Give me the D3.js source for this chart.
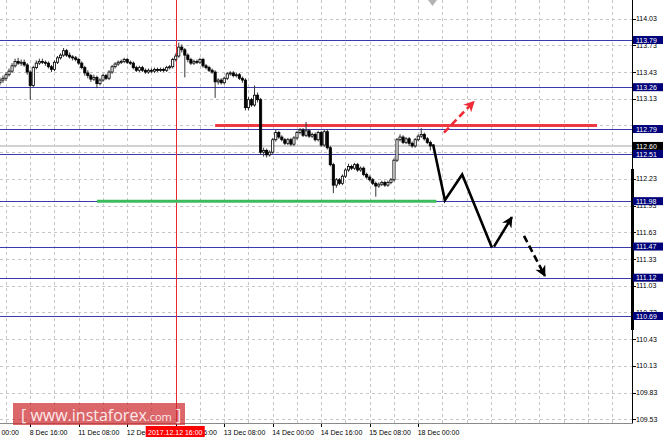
<!DOCTYPE html>
<html><head><meta charset="utf-8">
<script src="https://cdn.jsdelivr.net/npm/d3@7"></script>
<style>html,body{margin:0;padding:0;background:#fff;}svg{display:block;}</style>
</head><body>
<script>
// ---- data ----
const firstIndex = 6; // hourly bar index (0 = 8 Dec 00:00, weekend skipped)
const open = [113.31,113.34,113.36,113.40,113.44,113.50,113.55,113.53,113.54,113.51,
113.43,113.28,113.48,113.53,113.55,113.54,113.53,113.49,113.46,113.54,
113.59,113.62,113.67,113.62,113.60,113.59,113.57,113.53,113.48,113.42,
113.39,113.35,113.37,113.30,113.34,113.39,113.36,113.43,113.49,113.52,
113.54,113.55,113.57,113.54,113.53,113.48,113.45,113.48,113.45,113.43,
113.45,113.44,113.46,113.45,113.46,113.45,113.48,113.49,113.57,113.61,
113.71,113.68,113.62,113.57,113.53,113.55,113.54,113.57,113.50,113.48,
113.45,113.43,113.32,113.34,113.31,113.36,113.41,113.42,113.39,113.40,
113.36,113.34,113.03,113.12,113.06,113.17,113.12,112.53,112.55,112.50,
112.53,112.67,112.75,112.70,112.67,112.63,112.67,112.62,112.69,112.75,
112.78,112.72,112.77,112.71,112.73,112.67,112.75,112.61,112.76,112.58,
112.39,112.16,112.22,112.18,112.26,112.33,112.37,112.35,112.39,112.33,
112.35,112.28,112.25,112.22,112.18,112.15,112.17,112.19,112.16,112.19,
112.22,112.44,112.67,112.70,112.64,112.68,112.63,112.60,112.67,112.71,
112.73,112.68,112.64];
const high = [113.37,113.39,113.43,113.47,113.53,113.58,113.59,113.57,113.57,113.53,
113.45,113.50,113.56,113.58,113.58,113.56,113.55,113.51,113.56,113.61,
113.64,113.70,113.69,113.65,113.62,113.61,113.59,113.55,113.50,113.45,
113.41,113.40,113.39,113.36,113.41,113.41,113.45,113.51,113.54,113.56,
113.57,113.59,113.59,113.56,113.55,113.50,113.50,113.50,113.47,113.47,
113.47,113.48,113.48,113.48,113.48,113.50,113.51,113.59,113.64,113.76,
113.74,113.70,113.64,113.59,113.57,113.57,113.59,113.59,113.52,113.50,
113.47,113.45,113.36,113.36,113.38,113.43,113.44,113.44,113.42,113.42,
113.38,113.36,113.15,113.14,113.28,113.20,113.14,112.58,112.57,112.55,
112.69,112.78,112.77,112.72,112.69,112.69,112.69,112.71,112.77,112.80,
112.80,112.87,112.79,112.75,112.75,112.77,112.77,112.78,112.78,112.60,
112.41,112.24,112.24,112.28,112.35,112.40,112.39,112.41,112.41,112.37,
112.37,112.30,112.27,112.24,112.20,112.19,112.21,112.21,112.21,112.24,
112.46,112.69,112.73,112.72,112.70,112.70,112.65,112.69,112.73,112.80,
112.75,112.70,112.66];
const low = [113.28,113.31,113.33,113.38,113.42,113.48,113.51,113.50,113.49,113.40,
113.12,113.26,113.46,113.51,113.52,113.50,113.47,113.43,113.44,113.52,
113.57,113.60,113.60,113.58,113.56,113.55,113.51,113.46,113.39,113.36,
113.32,113.33,113.25,113.28,113.32,113.34,113.34,113.41,113.47,113.50,
113.52,113.53,113.52,113.51,113.46,113.43,113.43,113.43,113.41,113.41,
113.42,113.42,113.43,113.43,113.43,113.43,113.46,113.47,113.55,113.59,
113.65,113.37,113.54,113.51,113.51,113.52,113.52,113.48,113.46,113.43,
113.41,113.14,113.29,113.29,113.29,113.34,113.39,113.37,113.37,113.34,
113.31,113.00,113.00,113.04,113.04,113.09,112.50,112.48,112.47,112.48,
112.51,112.65,112.68,112.65,112.61,112.61,112.60,112.60,112.67,112.73,
112.70,112.70,112.69,112.69,112.65,112.65,112.59,112.59,112.56,112.37,
112.07,112.13,112.16,112.16,112.24,112.31,112.33,112.33,112.31,112.31,
112.26,112.23,112.20,112.16,112.03,112.13,112.15,112.14,112.14,112.17,
112.20,112.42,112.65,112.62,112.62,112.60,112.58,112.58,112.65,112.69,
112.66,112.62,112.55];
const close = [113.34,113.36,113.40,113.44,113.50,113.55,113.53,113.54,113.51,113.43,
113.28,113.48,113.53,113.55,113.54,113.53,113.49,113.46,113.54,113.59,
113.62,113.67,113.62,113.60,113.59,113.57,113.53,113.48,113.42,113.39,
113.35,113.37,113.30,113.34,113.39,113.36,113.43,113.49,113.52,113.54,
113.55,113.57,113.54,113.53,113.48,113.45,113.48,113.45,113.43,113.45,
113.44,113.46,113.45,113.46,113.45,113.48,113.49,113.57,113.61,113.71,
113.68,113.62,113.57,113.53,113.55,113.54,113.57,113.50,113.48,113.45,
113.43,113.32,113.34,113.31,113.36,113.41,113.42,113.39,113.40,113.36,
113.34,113.03,113.12,113.06,113.17,113.12,112.53,112.55,112.50,112.53,
112.67,112.75,112.70,112.67,112.63,112.67,112.62,112.69,112.75,112.78,
112.72,112.77,112.71,112.73,112.67,112.75,112.61,112.76,112.58,112.39,
112.16,112.22,112.18,112.26,112.33,112.37,112.35,112.39,112.33,112.35,
112.28,112.25,112.22,112.18,112.15,112.17,112.19,112.16,112.19,112.22,
112.44,112.67,112.70,112.64,112.68,112.63,112.60,112.67,112.71,112.73,
112.68,112.64,112.60];

const timeLabels = ["8 Dec 00:00","8 Dec 16:00","11 Dec 08:00","12 Dec 00:00","12 Dec 16:00",
                    "13 Dec 08:00","14 Dec 00:00","14 Dec 16:00","15 Dec 08:00","18 Dec 00:00"];
const timeLabelIndex = [0,16,32,48,64,80,96,112,128,144];
const priceTicks = [109.53,109.83,110.13,110.43,110.73,111.03,111.33,111.63,111.93,112.23,112.53,112.83,113.13,113.43,113.73,114.03];
const hiddenTickLabels = [112.53, 112.83]; // fully covered by level labels in the original
const levels = [113.79,113.26,112.79,112.51,111.98,111.47,111.12,110.69];
const currentPrice = 112.60;
const resistanceLine = {from:77, to:203, price:112.83};
const supportLine = {from:38, to:150, price:111.98};
const markerIndex = 64, markerLabel = "2017.12.12 16:00";
const forecastPath = [[148.9,112.62],[152.8,111.99],[158.5,112.28],[168.3,111.46]];
const upArrow = [[169.0,111.47],[174.9,111.80]];
const downArrow = [[178.9,111.59],[185.8,111.14]];
const breakoutArrow = [[152.5,112.75],[162.4,113.10]];

// ---- layout ----
const W = 664, H = 442, plotR = 632, plotB = 423;
const x = d3.scaleLinear().domain([0, 208]).range([-18.25, 612.2]);
const y = d3.scaleLinear().domain([110.69, 113.79]).range([316, 40]);
const FONT = "'Liberation Sans', Arial, sans-serif";

const svg = d3.select("body").append("svg").attr("width", W).attr("height", H)
  .style("font-family", FONT);
svg.append("rect").attr("width", W).attr("height", H).attr("fill", "#fff");
const defs = svg.append("defs");
defs.append("clipPath").attr("id","plot").append("rect").attr("x",0).attr("y",0).attr("width",plotR).attr("height",plotB);
function mk(id, color){
  defs.append("marker").attr("id", id).attr("viewBox","0 0 10 10").attr("refX",9).attr("refY",5)
    .attr("markerWidth",13).attr("markerHeight",11).attr("markerUnits","userSpaceOnUse").attr("orient","auto")
    .append("path").attr("d","M0,0 L10,5 L0,10 L3,5 Z").attr("fill", color);
}
mk("ahBlack", "#000"); mk("ahRed", "#ee2b36");

const plot = svg.append("g").attr("clip-path","url(#plot)");

// grid
const gridX = d3.range(8, 209, 8);
plot.selectAll(".gx").data(gridX).join("line")
  .attr("x1", d => Math.round(x(d)) + 0.5).attr("x2", d => Math.round(x(d)) + 0.5)
  .attr("y1", 0).attr("y2", plotB)
  .attr("stroke", "#c6c6c6").attr("stroke-dasharray", "3,3");
plot.selectAll(".gy").data(priceTicks).join("line")
  .attr("x1", 0).attr("x2", plotR)
  .attr("y1", d => Math.round(y(d)) + 0.5).attr("y2", d => Math.round(y(d)) + 0.5)
  .attr("stroke", "#c6c6c6").attr("stroke-dasharray", "3,3");

// bid line
plot.append("line").attr("x1",0).attr("x2",plotR)
  .attr("y1", y(currentPrice)).attr("y2", y(currentPrice))
  .attr("stroke","#d2d2d2").attr("stroke-width",2);

// levels
plot.selectAll(".lv").data(levels).join("line")
  .attr("x1",0).attr("x2",plotR)
  .attr("y1", d => Math.round(y(d)) + 0.5).attr("y2", d => Math.round(y(d)) + 0.5)
  .attr("stroke","#3a3aa8").attr("stroke-width",1.2);

// marker vertical line
plot.append("line").attr("x1", Math.round(x(markerIndex))+0.5).attr("x2", Math.round(x(markerIndex))+0.5)
  .attr("y1",0).attr("y2",plotB).attr("stroke","#e8282e");

// support / resistance
plot.append("line").attr("x1", x(supportLine.from)).attr("x2", x(supportLine.to))
  .attr("y1", y(supportLine.price)).attr("y2", y(supportLine.price))
  .attr("stroke","#3cbc5e").attr("stroke-width",3);
plot.append("line").attr("x1", x(resistanceLine.from)).attr("x2", x(resistanceLine.to))
  .attr("y1", y(resistanceLine.price)).attr("y2", y(resistanceLine.price))
  .attr("stroke","#ee3a45").attr("stroke-width",3);

// candles
const bars = d3.range(close.length).map(i => ({i: firstIndex + i, o: open[i], h: high[i], l: low[i], c: close[i]}));
const cg = plot.append("g");
cg.selectAll(".wick").data(bars).join("line")
  .attr("x1", d => x(d.i)).attr("x2", d => x(d.i))
  .attr("y1", d => y(d.h)).attr("y2", d => y(d.l))
  .attr("stroke","#333").attr("stroke-width",1);
cg.selectAll(".body").data(bars).join("rect")
  .attr("x", d => x(d.i) - 1.1)
  .attr("y", d => y(Math.max(d.o, d.c)))
  .attr("width", 2.2)
  .attr("height", d => Math.max(1, Math.abs(y(d.o) - y(d.c))))
  .attr("fill", d => d.c < d.o ? "#000" : "#fff")
  .attr("stroke","#000").attr("stroke-width",0.8);

// forecast arrows
const line = d3.line().x(d => x(d[0])).y(d => y(d[1]));
plot.append("path").attr("d", line(forecastPath)).attr("fill","none")
  .attr("stroke","#000").attr("stroke-width",2.6).attr("stroke-linejoin","miter");
plot.append("path").attr("d", line(upArrow)).attr("fill","none")
  .attr("stroke","#000").attr("stroke-width",2.6).attr("marker-end","url(#ahBlack)");
plot.append("path").attr("d", line(downArrow)).attr("fill","none")
  .attr("stroke","#000").attr("stroke-width",2.6).attr("stroke-dasharray","7,4").attr("marker-end","url(#ahBlack)");
plot.append("path").attr("d", line(breakoutArrow)).attr("fill","none")
  .attr("stroke","#ee2b36").attr("stroke-width",2.6).attr("stroke-dasharray","7,4").attr("marker-end","url(#ahRed)");

// top shift marker
svg.append("path").attr("d","M428,0 L437,0 L432.5,6 Z").attr("fill","#b4b4b4");

// axes frame
svg.append("line").attr("x1",plotR+0.5).attr("x2",plotR+0.5).attr("y1",0).attr("y2",plotB+0.5).attr("stroke","#000");
svg.append("line").attr("x1",0).attr("x2",plotR+0.5).attr("y1",plotB+0.5).attr("y2",plotB+0.5).attr("stroke","#8a8a8a");
svg.append("rect").attr("x",plotR-1).attr("y",169).attr("width",3).attr("height",161).attr("fill","#000");

// right axis ticks
const ra = svg.append("g");
ra.selectAll("line").data(priceTicks).join("line")
  .attr("x1", plotR+1).attr("x2", plotR+4)
  .attr("y1", d => Math.round(y(d))+0.5).attr("y2", d => Math.round(y(d))+0.5).attr("stroke","#000");
ra.selectAll("text").data(priceTicks.filter(t => !hiddenTickLabels.includes(t))).join("text")
  .attr("x", plotR+4).attr("y", d => y(d)+2.6)
  .attr("font-size", 7).attr("fill","#000").text(d => d.toFixed(2));

// level labels
const lb = svg.append("g");
const lvData = levels.map(v => ({v, fill:"#00007a"})).concat([{v: currentPrice, fill:"#000"}]);
const lbG = lb.selectAll("g").data(lvData).join("g");
lbG.append("rect").attr("x", plotR+1).attr("y", d => y(d.v) - 4).attr("width", 30).attr("height", 8)
  .attr("fill", d => d.fill);
lbG.append("text").attr("x", plotR+4).attr("y", d => y(d.v)+2.6).attr("font-size",7).attr("fill","#fff")
  .text(d => d.v.toFixed(2));

// bottom axis
const ba = svg.append("g");
ba.selectAll("line").data(timeLabelIndex).join("line")
  .attr("x1", d => Math.round(x(d))+0.5).attr("x2", d => Math.round(x(d))+0.5)
  .attr("y1", plotB+1).attr("y2", plotB+4).attr("stroke","#000");
ba.selectAll("text").data(timeLabels).join("text")
  .attr("x", (d,i) => x(timeLabelIndex[i]) - 0.5).attr("y", 435)
  .attr("font-size", 7).attr("fill","#000").text(d => d);

// marker label
const mx = x(markerIndex);
svg.append("rect").attr("x", mx - 30).attr("y", 426).attr("width", 59).attr("height", 11).attr("fill","#ff0000");
svg.append("text").attr("x", mx - 0.5).attr("y", 434.5).attr("text-anchor","middle").attr("font-size",7)
  .attr("fill","#fff").text(markerLabel);

// watermark
svg.append("rect").attr("x",13).attr("y",403).attr("width",172).attr("height",22).attr("fill","rgba(205,45,48,0.72)");
const wm = svg.append("text").attr("x",21).attr("y",421).attr("fill","#fbeaea").attr("font-family","'Open Sans', 'Liberation Sans', sans-serif");
wm.append("tspan").attr("font-size",16).text("[ ");
wm.append("tspan").attr("font-size",16).text("www.instaforex");
wm.append("tspan").attr("font-size",11).text(".com");
wm.append("tspan").attr("font-size",16).text(" ]");
</script>
</body></html>
